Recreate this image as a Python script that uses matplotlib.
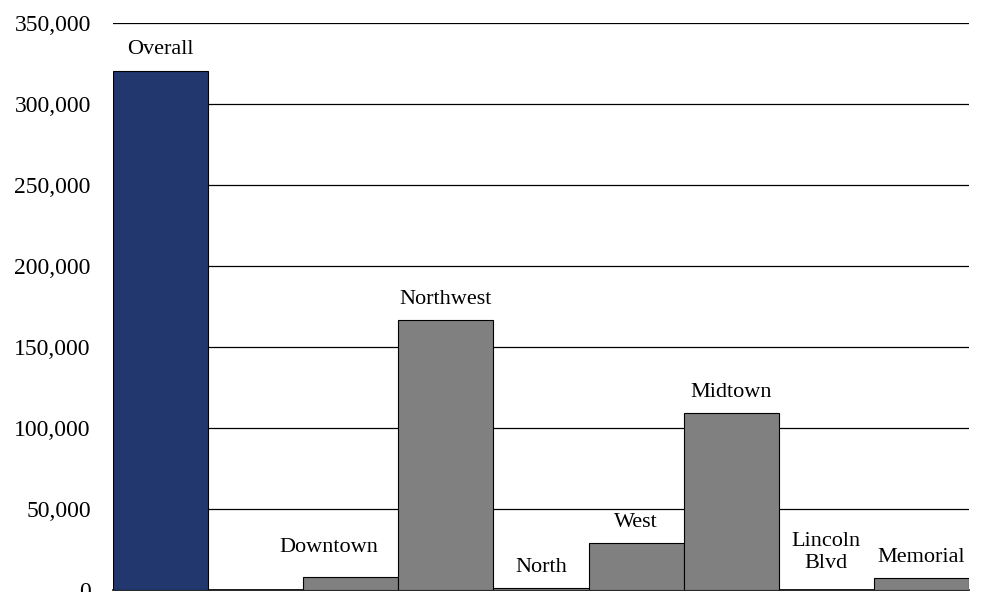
import matplotlib
matplotlib.use("Agg")
import matplotlib.pyplot as plt
from matplotlib.ticker import FuncFormatter

# data (blank slot between Overall and the regions)
categories = ["Overall", "", "Downtown", "Northwest", "North", "West",
              "Midtown", "Lincoln\nBlvd", "Memorial"]
values = [320500, 0, 8000, 166500, 1000, 29000, 109200, 0, 7400]
yticks = [0, 50000, 100000, 150000, 200000, 250000, 300000, 350000]

NAVY = "#22376e"
GREY = "#808080"

plt.rcParams["font.family"] = ["Liberation Serif", "DejaVu Serif"]

fig = plt.figure(figsize=(9.82, 5.92), dpi=100)
ax = fig.add_axes([0.1151, 0.0034, 0.8717, 0.9577])

x = list(range(len(categories)))
colors = [NAVY] + [GREY] * (len(categories) - 1)
heights = [v if c else 0 for v, c in zip(values, categories)]
ax.bar(x, heights, width=1.0, color=colors, edgecolor="black",
       linewidth=0.8, zorder=3)

# label offsets (points): a couple were nudged by hand in the original
dx = {"Downtown": -16}
dy = {"Downtown": 21, "Lincoln\nBlvd": 27}
for xi, cat, v in zip(x, categories, values):
    if not cat:
        continue
    ax.annotate(cat, (xi, v), xytext=(dx.get(cat, 0), dy.get(cat, 15)),
                textcoords="offset points", ha="center", va="center",
                fontsize=16, linespacing=1.15, zorder=4)

ax.set_xlim(-0.5, len(categories) - 0.5)
ax.set_ylim(0, 350000)
ax.set_yticks(yticks)
ax.yaxis.set_major_formatter(FuncFormatter(lambda v, p: f"{int(v):,}"))
ax.tick_params(axis="y", length=0, pad=16, labelsize=17)
ax.set_xticks([])
ax.grid(axis="y", color="black", linewidth=0.9, zorder=0)

for side in ("left", "right", "top"):
    ax.spines[side].set_visible(False)
ax.spines["bottom"].set_linewidth(1.2)

fig.savefig("out.png", dpi=100)
